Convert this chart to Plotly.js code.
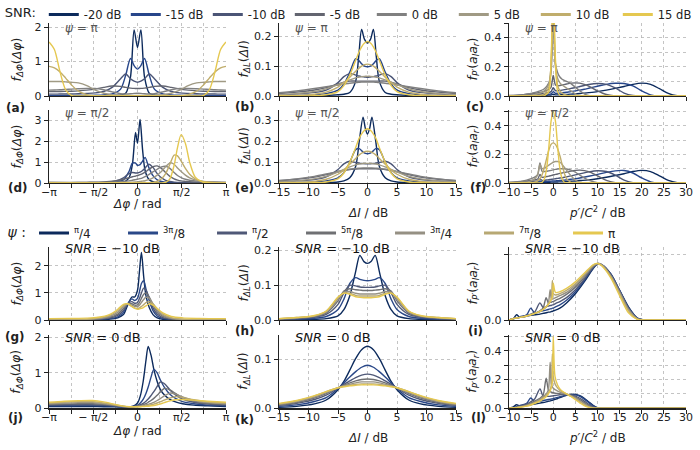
<!DOCTYPE html>
<html><head><meta charset="utf-8">
<script src="https://cdn.plot.ly/plotly-3.0.1.min.js"></script>
<style>html,body{margin:0;padding:0;background:#fff}#plot{width:700px;height:450px}</style>
</head><body><div id="plot"></div>
<script>
// ---------- labels & colours ----------
const snrLabels = ['-20 dB','-15 dB','-10 dB','-5 dB','0 dB','5 dB','10 dB','15 dB'];
const psiLabels = ['<sup>π</sup>/4','<sup>3π</sup>/8','<sup>π</sup>/2','<sup>5π</sup>/8','<sup>3π</sup>/4','<sup>7π</sup>/8','π'];
const snrColors = ['#0c2a5c','#27468a','#4b5576','#636570','#808080','#a09a84','#c0ad6c','#e5c850'];
const psiColors = ['#0c2a5c','#2a4888','#4f5877','#6f7073','#959083','#b7a873','#e5c850'];

// ---------- (a) psi = pi, phase difference, one row per SNR ----------
const xA = [-3.14,-2.95,-2.75,-2.55,-2.35,-2.1,-1.8,-1.5,-1.2,-0.9,-0.6,-0.42,-0.25,-0.12,0,0.12,0.25,0.42,0.6,0.9,1.2,1.5,1.8,2.1,2.35,2.55,2.75,2.95,3.14];
const yA = [
 [0.005,0.005,0.005,0.005,0.005,0.006,0.007,0.008,0.01,0.015,0.03,0.08,0.55,1.92,1.41,1.92,0.55,0.08,0.03,0.015,0.01,0.008,0.007,0.006,0.005,0.005,0.005,0.005,0.005],
 [0.01,0.01,0.01,0.011,0.012,0.014,0.017,0.022,0.032,0.06,0.2,0.6,1.09,0.88,0.78,0.88,1.09,0.6,0.2,0.06,0.032,0.022,0.017,0.014,0.012,0.011,0.01,0.01,0.01],
 [0.055,0.055,0.056,0.058,0.06,0.065,0.075,0.09,0.13,0.25,0.5,0.64,0.5,0.43,0.4,0.43,0.5,0.64,0.5,0.25,0.13,0.09,0.075,0.065,0.06,0.058,0.056,0.055,0.055],
 [0.13,0.13,0.13,0.135,0.14,0.15,0.17,0.2,0.25,0.29,0.28,0.25,0.23,0.22,0.22,0.22,0.23,0.25,0.28,0.29,0.25,0.2,0.17,0.15,0.14,0.135,0.13,0.13,0.13],
 [0.17,0.175,0.18,0.19,0.2,0.21,0.22,0.22,0.18,0.12,0.07,0.06,0.065,0.075,0.08,0.075,0.065,0.06,0.07,0.12,0.18,0.22,0.22,0.21,0.2,0.19,0.18,0.175,0.17],
 [0.42,0.42,0.42,0.41,0.4,0.38,0.3,0.17,0.08,0.04,0.025,0.02,0.018,0.016,0.015,0.016,0.018,0.02,0.025,0.04,0.08,0.17,0.3,0.38,0.4,0.41,0.42,0.42,0.42],
 [0.86,0.82,0.7,0.52,0.33,0.14,0.04,0.01,0.003,0.001,0,0,0,0,0,0,0,0,0,0.001,0.003,0.01,0.04,0.14,0.33,0.52,0.7,0.82,0.86],
 [1.57,1.35,0.7,0.18,0.02,0,0,0,0,0,0,0,0,0,0,0,0,0,0,0,0,0,0,0,0.02,0.18,0.7,1.35,1.57]
];
// ---------- (b) psi = pi, level difference ----------
const xB = [-15,-12,-9,-7,-5,-4,-3,-2,-1.5,-1,-0.5,0,0.5,1,1.5,2,3,4,5,7,9,12,15];
const yB = [
 [0,0,0.001,0.002,0.004,0.006,0.012,0.05,0.13,0.223,0.19,0.178,0.19,0.223,0.13,0.05,0.012,0.006,0.004,0.002,0.001,0,0],
 [0.001,0.002,0.004,0.008,0.02,0.04,0.08,0.125,0.12,0.108,0.1,0.098,0.1,0.108,0.12,0.125,0.08,0.04,0.02,0.008,0.004,0.002,0.001],
 [0.004,0.007,0.012,0.02,0.045,0.065,0.075,0.07,0.067,0.065,0.064,0.063,0.064,0.065,0.067,0.07,0.075,0.065,0.045,0.02,0.012,0.007,0.004],
 [0.008,0.013,0.02,0.028,0.04,0.046,0.05,0.05,0.05,0.05,0.05,0.05,0.05,0.05,0.05,0.05,0.05,0.046,0.04,0.028,0.02,0.013,0.008],
 [0.011,0.017,0.025,0.031,0.037,0.04,0.043,0.045,0.046,0.047,0.047,0.047,0.047,0.047,0.046,0.045,0.043,0.04,0.037,0.031,0.025,0.017,0.011],
 [0.004,0.008,0.015,0.024,0.038,0.046,0.054,0.061,0.063,0.065,0.066,0.066,0.066,0.065,0.063,0.061,0.054,0.046,0.038,0.024,0.015,0.008,0.004],
 [0.001,0.002,0.006,0.013,0.03,0.045,0.063,0.083,0.092,0.1,0.105,0.107,0.105,0.1,0.092,0.083,0.063,0.045,0.03,0.013,0.006,0.002,0.001],
 [0,0,0.001,0.004,0.015,0.035,0.07,0.12,0.145,0.165,0.178,0.183,0.178,0.165,0.145,0.12,0.07,0.035,0.015,0.004,0.001,0,0]
];
// ---------- (c) psi = pi, p'/C^2 ----------
const xC = [-10,-7,-5,-3,-2,-1,-0.5,0,0.5,1,1.5,2,3,4,5,6,7,8,10,12,14,16,18,20,22,24,26,28,30];
const yC = [
 [0,0.001,0.002,0.004,0.005,0.006,0.007,0.012,0.008,0.008,0.009,0.01,0.011,0.013,0.015,0.017,0.02,0.023,0.03,0.04,0.052,0.065,0.08,0.088,0.08,0.05,0.018,0.002,0],
 [0.001,0.003,0.005,0.008,0.01,0.012,0.014,0.03,0.018,0.019,0.02,0.022,0.026,0.03,0.035,0.04,0.046,0.053,0.067,0.08,0.087,0.086,0.07,0.035,0.008,0,0,0,0],
 [0.002,0.005,0.009,0.014,0.018,0.024,0.03,0.056,0.036,0.036,0.038,0.04,0.045,0.052,0.058,0.065,0.072,0.079,0.086,0.08,0.055,0.02,0.003,0,0,0,0,0,0],
 [0.003,0.008,0.015,0.025,0.032,0.045,0.06,0.14,0.075,0.07,0.072,0.075,0.082,0.088,0.09,0.088,0.08,0.068,0.035,0.01,0.001,0,0,0,0,0,0,0,0],
 [0.002,0.008,0.018,0.035,0.05,0.09,0.16,0.5,0.22,0.16,0.13,0.115,0.1,0.085,0.06,0.035,0.015,0.004,0,0,0,0,0,0,0,0,0,0,0],
 [0,0.002,0.006,0.02,0.035,0.08,0.2,0.6,0.2,0.12,0.09,0.075,0.055,0.035,0.015,0.004,0,0,0,0,0,0,0,0,0,0,0,0,0],
 [0,0,0,0.005,0.015,0.06,0.22,0.65,0.22,0.07,0.035,0.02,0.005,0,0,0,0,0,0,0,0,0,0,0,0,0,0,0,0],
 [0,0,0,0,0.003,0.03,0.25,0.7,0.25,0.03,0.005,0,0,0,0,0,0,0,0,0,0,0,0,0,0,0,0,0,0]
];
// ---------- (d) psi = pi/2, phase difference ----------
const xD = [-3.14,-2.4,-1.8,-1.2,-0.8,-0.5,-0.3,-0.18,-0.07,0,0.09,0.18,0.27,0.4,0.55,0.7,0.85,1.0,1.15,1.3,1.42,1.55,1.7,1.85,2.05,2.3,2.7,3.14];
const yD = [
 [0,0,0,0,0.01,0.04,0.25,0.9,2.42,1.9,3.05,1.6,0.6,0.18,0.06,0.02,0.01,0,0,0,0,0,0,0,0,0,0,0],
 [0.005,0.005,0.005,0.01,0.04,0.15,0.55,0.95,0.95,0.85,0.88,1.05,1.23,0.75,0.35,0.15,0.07,0.04,0.02,0.01,0.008,0.007,0.006,0.005,0.005,0.005,0.005,0.005],
 [0.01,0.01,0.015,0.03,0.09,0.25,0.45,0.5,0.48,0.48,0.52,0.6,0.72,0.9,0.75,0.45,0.25,0.13,0.07,0.04,0.03,0.025,0.02,0.02,0.015,0.012,0.01,0.01],
 [0.02,0.02,0.03,0.05,0.1,0.18,0.25,0.3,0.33,0.36,0.4,0.45,0.52,0.65,0.78,0.82,0.7,0.5,0.32,0.2,0.14,0.1,0.08,0.06,0.05,0.04,0.03,0.02],
 [0.04,0.03,0.03,0.03,0.04,0.07,0.1,0.13,0.16,0.18,0.21,0.25,0.3,0.4,0.53,0.66,0.77,0.8,0.7,0.5,0.36,0.26,0.18,0.13,0.1,0.07,0.05,0.04],
 [0.02,0.01,0.01,0.01,0.01,0.02,0.03,0.04,0.05,0.06,0.07,0.09,0.11,0.16,0.25,0.38,0.55,0.78,0.96,0.9,0.72,0.55,0.38,0.25,0.15,0.08,0.04,0.02],
 [0.01,0.005,0.003,0.003,0.003,0.004,0.005,0.006,0.007,0.008,0.009,0.01,0.012,0.018,0.03,0.08,0.2,0.45,0.9,1.34,1.3,1.05,0.7,0.42,0.2,0.07,0.02,0.01],
 [0,0,0,0,0,0,0,0,0,0,0,0,0,0,0,0,0,0.03,0.2,0.85,1.7,2.32,1.9,1.0,0.28,0.05,0,0]
];
// ---------- (e) psi = pi/2, level difference ----------
const xE = [-15,-12,-9,-7,-5,-4,-3,-2,-1.4,-0.75,-0.35,0,0.35,0.75,1.4,2,3,4,5,7,9,12,15];
const yE = [
 [0,0,0.001,0.002,0.005,0.01,0.025,0.08,0.2,0.316,0.26,0.235,0.26,0.316,0.2,0.08,0.025,0.01,0.005,0.002,0.001,0,0],
 [0.001,0.002,0.005,0.01,0.025,0.05,0.1,0.16,0.165,0.148,0.142,0.14,0.142,0.148,0.165,0.16,0.1,0.05,0.025,0.01,0.005,0.002,0.001],
 [0.006,0.01,0.017,0.03,0.065,0.092,0.104,0.098,0.095,0.093,0.092,0.092,0.092,0.093,0.095,0.098,0.104,0.092,0.065,0.03,0.017,0.01,0.006],
 [0.011,0.018,0.028,0.04,0.054,0.06,0.065,0.067,0.068,0.068,0.068,0.068,0.068,0.068,0.068,0.067,0.065,0.06,0.054,0.04,0.028,0.018,0.011],
 [0.012,0.02,0.032,0.043,0.055,0.061,0.066,0.07,0.071,0.072,0.072,0.072,0.072,0.072,0.071,0.07,0.066,0.061,0.055,0.043,0.032,0.02,0.012],
 [0.005,0.01,0.02,0.032,0.053,0.065,0.077,0.087,0.091,0.093,0.094,0.094,0.094,0.093,0.091,0.087,0.077,0.065,0.053,0.032,0.02,0.01,0.005],
 [0.001,0.003,0.008,0.018,0.042,0.063,0.09,0.118,0.135,0.147,0.151,0.152,0.151,0.147,0.135,0.118,0.09,0.063,0.042,0.018,0.008,0.003,0.001],
 [0,0,0.001,0.005,0.02,0.048,0.1,0.17,0.215,0.245,0.256,0.26,0.256,0.245,0.215,0.17,0.1,0.048,0.02,0.005,0.001,0,0]
];
// ---------- (f) psi = pi/2, p'/C^2 ----------
const xF = [-10,-7,-5,-4,-3.5,-3,-2.5,-2,-1.5,-1,-0.5,0,0.5,1,1.5,2,2.5,3,4,5,6,8,10,12,14,16,18,20,22,24,26,28,30];
const yF = [
 [0,0.001,0.002,0.003,0.003,0.006,0.004,0.004,0.005,0.005,0.006,0.006,0.007,0.007,0.008,0.008,0.009,0.01,0.012,0.014,0.017,0.022,0.03,0.04,0.052,0.065,0.08,0.088,0.08,0.05,0.018,0.002,0],
 [0.001,0.003,0.005,0.006,0.007,0.014,0.009,0.01,0.011,0.012,0.013,0.014,0.015,0.016,0.017,0.019,0.02,0.022,0.026,0.03,0.035,0.047,0.06,0.074,0.085,0.087,0.07,0.035,0.008,0,0,0,0],
 [0.002,0.006,0.01,0.013,0.015,0.028,0.018,0.019,0.021,0.023,0.025,0.027,0.03,0.032,0.035,0.037,0.04,0.043,0.05,0.057,0.064,0.078,0.086,0.08,0.055,0.02,0.003,0,0,0,0,0,0],
 [0.003,0.01,0.018,0.024,0.028,0.06,0.04,0.042,0.045,0.048,0.052,0.056,0.06,0.063,0.067,0.07,0.074,0.077,0.083,0.088,0.09,0.08,0.05,0.018,0.003,0,0,0,0,0,0,0,0],
 [0.003,0.012,0.03,0.045,0.06,0.14,0.08,0.08,0.082,0.085,0.088,0.092,0.095,0.098,0.1,0.1,0.1,0.098,0.09,0.075,0.055,0.02,0.002,0,0,0,0,0,0,0,0,0,0],
 [0,0.003,0.015,0.035,0.06,0.13,0.1,0.105,0.115,0.125,0.135,0.145,0.15,0.15,0.145,0.13,0.11,0.09,0.05,0.02,0.005,0,0,0,0,0,0,0,0,0,0,0,0],
 [0,0,0.002,0.008,0.015,0.03,0.06,0.11,0.17,0.23,0.27,0.28,0.27,0.24,0.19,0.13,0.07,0.03,0.005,0,0,0,0,0,0,0,0,0,0,0,0,0,0],
 [0,0,0,0,0,0,0.005,0.03,0.1,0.25,0.43,0.5,0.43,0.25,0.1,0.03,0.005,0,0,0,0,0,0,0,0,0,0,0,0,0,0,0,0]
];
// ---------- (g) SNR = -10 dB, phase difference, one row per psi ----------
const xG = [-3.14,-2.4,-1.8,-1.4,-1.0,-0.7,-0.5,-0.35,-0.2,-0.1,0,0.07,0.14,0.22,0.3,0.42,0.55,0.7,0.9,1.2,1.6,2.2,3.14];
const yG = [
 [0,0,0.005,0.01,0.03,0.08,0.2,0.55,0.85,0.85,1.1,1.8,2.5,1.6,0.9,0.45,0.2,0.08,0.03,0.01,0.005,0,0],
 [0,0,0.01,0.02,0.05,0.12,0.28,0.6,0.78,0.72,0.8,1.05,1.35,1.45,1.15,0.7,0.35,0.15,0.06,0.02,0.01,0,0],
 [0,0.005,0.01,0.03,0.07,0.17,0.35,0.6,0.68,0.62,0.65,0.8,1.0,1.18,1.1,0.8,0.45,0.22,0.09,0.03,0.01,0.005,0],
 [0,0.005,0.015,0.04,0.1,0.22,0.42,0.6,0.6,0.55,0.56,0.65,0.8,0.95,1.0,0.85,0.55,0.3,0.13,0.05,0.02,0.005,0],
 [0,0.01,0.02,0.05,0.13,0.28,0.48,0.6,0.55,0.5,0.5,0.55,0.65,0.76,0.84,0.8,0.6,0.36,0.17,0.06,0.02,0.01,0],
 [0,0.01,0.03,0.07,0.16,0.34,0.54,0.6,0.5,0.44,0.43,0.45,0.5,0.57,0.64,0.68,0.6,0.42,0.22,0.09,0.03,0.01,0],
 [0.05,0.06,0.07,0.1,0.2,0.4,0.58,0.6,0.5,0.43,0.4,0.41,0.43,0.47,0.52,0.6,0.55,0.42,0.26,0.13,0.08,0.06,0.05]
];
// ---------- (h) SNR = -10 dB, level difference ----------
const xH = [-15,-12,-9,-7,-5,-4,-3,-2,-1.3,-0.6,0,0.6,1.3,2,3,4,5,7,9,12,15];
const yH = [
 [0,0.001,0.002,0.004,0.012,0.03,0.07,0.14,0.186,0.168,0.163,0.168,0.186,0.14,0.07,0.03,0.012,0.004,0.002,0.001,0],
 [0.001,0.002,0.005,0.01,0.03,0.06,0.105,0.122,0.117,0.114,0.113,0.114,0.117,0.122,0.105,0.06,0.03,0.01,0.005,0.002,0.001],
 [0.002,0.004,0.008,0.016,0.045,0.078,0.1,0.098,0.095,0.094,0.094,0.094,0.095,0.098,0.1,0.078,0.045,0.016,0.008,0.004,0.002],
 [0.003,0.005,0.01,0.02,0.055,0.083,0.09,0.087,0.086,0.085,0.085,0.085,0.086,0.087,0.09,0.083,0.055,0.02,0.01,0.005,0.003],
 [0.003,0.006,0.011,0.023,0.06,0.08,0.082,0.077,0.075,0.075,0.075,0.075,0.075,0.077,0.082,0.08,0.06,0.023,0.011,0.006,0.003],
 [0.004,0.007,0.012,0.025,0.064,0.078,0.077,0.071,0.069,0.069,0.069,0.069,0.069,0.071,0.077,0.078,0.064,0.025,0.012,0.007,0.004],
 [0.004,0.007,0.013,0.026,0.066,0.077,0.074,0.067,0.065,0.064,0.064,0.064,0.065,0.067,0.074,0.077,0.066,0.026,0.013,0.007,0.004]
];
// ---------- (i) SNR = -10 dB, p'/C^2 ----------
const xI = [-10,-9,-8.3,-7.5,-6,-5.1,-4.2,-3.0,-2.3,-1.6,-1.1,-0.7,-0.45,-0.2,0,0.5,1.5,3,5,7,9,10,11,13,15,17,19,21,25,30];
const yI = [
 [0,0.002,0.008,0.004,0.006,0.007,0.008,0.009,0.01,0.011,0.012,0.012,0.013,0.013,0.014,0.015,0.018,0.026,0.04,0.058,0.078,0.085,0.084,0.07,0.045,0.02,0.003,0,0,0],
 [0,0.002,0.003,0.005,0.008,0.018,0.011,0.013,0.014,0.015,0.016,0.017,0.017,0.018,0.018,0.02,0.023,0.03,0.043,0.06,0.079,0.085,0.084,0.07,0.045,0.019,0.003,0,0,0],
 [0,0.002,0.003,0.004,0.007,0.009,0.012,0.026,0.019,0.02,0.021,0.022,0.022,0.023,0.023,0.025,0.028,0.034,0.046,0.062,0.08,0.086,0.084,0.069,0.044,0.018,0.002,0,0,0],
 [0,0.002,0.003,0.004,0.006,0.008,0.01,0.014,0.018,0.034,0.026,0.027,0.027,0.028,0.028,0.03,0.033,0.039,0.05,0.065,0.081,0.086,0.084,0.068,0.043,0.017,0.002,0,0,0],
 [0,0.002,0.003,0.004,0.006,0.008,0.01,0.013,0.016,0.02,0.026,0.046,0.033,0.032,0.032,0.034,0.037,0.042,0.053,0.067,0.082,0.086,0.084,0.067,0.042,0.016,0.002,0,0,0],
 [0,0.002,0.003,0.004,0.006,0.008,0.01,0.013,0.016,0.02,0.024,0.028,0.032,0.06,0.04,0.038,0.04,0.045,0.055,0.069,0.083,0.086,0.083,0.066,0.04,0.014,0.001,0,0,0],
 [0,0.002,0.003,0.004,0.006,0.008,0.01,0.013,0.016,0.02,0.024,0.028,0.031,0.035,0.056,0.042,0.043,0.048,0.058,0.071,0.084,0.086,0.082,0.064,0.037,0.011,0.001,0,0,0]
];
// ---------- (j) SNR = 0 dB, phase difference ----------
const xJ = [-3.14,-2.6,-2.1,-1.6,-1.2,-0.8,-0.5,-0.3,-0.15,0,0.1,0.2,0.3,0.38,0.48,0.58,0.7,0.8,0.95,1.15,1.35,1.6,2.0,2.5,3.14];
const yJ = [
 [0.05,0.05,0.05,0.05,0.045,0.04,0.035,0.04,0.06,0.15,0.35,0.75,1.35,1.75,1.5,1.1,0.75,0.55,0.38,0.25,0.18,0.13,0.09,0.07,0.05],
 [0.07,0.07,0.075,0.075,0.07,0.055,0.04,0.04,0.05,0.09,0.15,0.25,0.42,0.6,0.88,1.1,1.0,0.82,0.6,0.4,0.28,0.19,0.13,0.09,0.07],
 [0.09,0.1,0.1,0.1,0.09,0.07,0.045,0.04,0.045,0.07,0.1,0.14,0.2,0.26,0.36,0.47,0.62,0.74,0.7,0.52,0.38,0.26,0.17,0.12,0.09],
 [0.11,0.12,0.13,0.13,0.11,0.08,0.05,0.04,0.045,0.06,0.075,0.1,0.13,0.17,0.22,0.28,0.37,0.45,0.56,0.52,0.42,0.3,0.2,0.14,0.11],
 [0.13,0.15,0.16,0.16,0.13,0.09,0.05,0.04,0.04,0.05,0.06,0.075,0.095,0.11,0.14,0.17,0.22,0.27,0.35,0.43,0.4,0.32,0.22,0.16,0.13],
 [0.15,0.18,0.19,0.19,0.15,0.1,0.055,0.04,0.04,0.045,0.05,0.06,0.07,0.08,0.1,0.12,0.15,0.18,0.23,0.29,0.33,0.31,0.24,0.18,0.15],
 [0.17,0.2,0.215,0.22,0.18,0.11,0.06,0.045,0.042,0.042,0.045,0.05,0.055,0.06,0.07,0.08,0.1,0.12,0.16,0.21,0.24,0.25,0.23,0.2,0.17]
];
// ---------- (k) SNR = 0 dB, level difference ----------
const xK = [-15,-12,-9,-7,-5,-4,-3,-2,-1,0,1,2,3,4,5,7,9,12,15];
const yK = [
 [0.002,0.004,0.009,0.017,0.038,0.055,0.078,0.102,0.12,0.127,0.12,0.102,0.078,0.055,0.038,0.017,0.009,0.004,0.002],
 [0.004,0.007,0.014,0.022,0.04,0.052,0.064,0.075,0.084,0.088,0.084,0.075,0.064,0.052,0.04,0.022,0.014,0.007,0.004],
 [0.006,0.01,0.018,0.027,0.041,0.049,0.056,0.063,0.068,0.07,0.068,0.063,0.056,0.049,0.041,0.027,0.018,0.01,0.006],
 [0.007,0.012,0.021,0.03,0.042,0.047,0.052,0.056,0.059,0.06,0.059,0.056,0.052,0.047,0.042,0.03,0.021,0.012,0.007],
 [0.008,0.014,0.023,0.032,0.042,0.046,0.049,0.052,0.054,0.054,0.054,0.052,0.049,0.046,0.042,0.032,0.023,0.014,0.008],
 [0.009,0.015,0.025,0.034,0.042,0.045,0.047,0.049,0.05,0.05,0.05,0.049,0.047,0.045,0.042,0.034,0.025,0.015,0.009],
 [0.01,0.016,0.026,0.034,0.042,0.044,0.046,0.047,0.048,0.048,0.048,0.047,0.046,0.044,0.042,0.034,0.026,0.016,0.01]
];
// ---------- (l) SNR = 0 dB, p'/C^2 ----------
const xL = [-10,-9,-8.3,-7.5,-6,-5.1,-4.2,-3.0,-2.3,-1.6,-1.1,-0.7,-0.45,-0.2,0,0.4,1,1.5,2,3,4,5,6,7,8,9,10,12,15,20,30];
const yL = [
 [0,0.01,0.025,0.015,0.02,0.025,0.03,0.036,0.04,0.045,0.049,0.052,0.054,0.056,0.058,0.062,0.068,0.074,0.08,0.09,0.097,0.097,0.088,0.07,0.045,0.02,0.004,0,0,0,0],
 [0,0.005,0.01,0.02,0.035,0.072,0.045,0.05,0.054,0.058,0.061,0.063,0.065,0.066,0.068,0.071,0.076,0.08,0.084,0.091,0.095,0.093,0.083,0.064,0.04,0.017,0.003,0,0,0,0],
 [0,0.004,0.008,0.014,0.03,0.045,0.065,0.135,0.085,0.083,0.083,0.084,0.085,0.086,0.087,0.089,0.092,0.094,0.095,0.096,0.093,0.085,0.07,0.05,0.028,0.01,0.001,0,0,0,0],
 [0,0.003,0.006,0.011,0.024,0.036,0.05,0.07,0.09,0.21,0.13,0.118,0.113,0.11,0.108,0.105,0.103,0.101,0.1,0.097,0.09,0.078,0.06,0.04,0.02,0.006,0,0,0,0,0],
 [0,0.003,0.005,0.01,0.02,0.03,0.043,0.062,0.08,0.1,0.13,0.32,0.17,0.15,0.14,0.13,0.12,0.113,0.107,0.098,0.087,0.072,0.052,0.032,0.014,0.003,0,0,0,0,0],
 [0,0.002,0.004,0.008,0.017,0.026,0.038,0.056,0.072,0.09,0.11,0.13,0.16,0.38,0.22,0.17,0.14,0.125,0.115,0.1,0.085,0.066,0.046,0.026,0.01,0.002,0,0,0,0,0],
 [0,0.002,0.004,0.007,0.015,0.023,0.034,0.05,0.065,0.08,0.1,0.12,0.14,0.18,0.5,0.22,0.16,0.135,0.12,0.1,0.082,0.06,0.038,0.018,0.006,0.001,0,0,0,0,0]
];

// ---------- layout geometry ----------
const W = 700, H = 450, PI = Math.PI;
const colPx = [[49,226],[279,456],[509,686]];
const rowPx = [[23,96],[110,183],[247,320],[335,408.3]];
const panels = [
  {x:xA,ys:yA},{x:xB,ys:yB},{x:xC,ys:yC},
  {x:xD,ys:yD},{x:xE,ys:yE},{x:xF,ys:yF},
  {x:xG,ys:yG},{x:xH,ys:yH},{x:xI,ys:yI},
  {x:xJ,ys:yJ},{x:xK,ys:yK},{x:xL,ys:yL}
];
const xCfg = [
  {range:[-PI,PI], tickvals:[-PI,-3*PI/4,-PI/2,-PI/4,0,PI/4,PI/2,3*PI/4,PI],
   ticktext:['−π','','− π/2','','0','','π/2','','π']},
  {range:[-15,15], tickvals:[-15,-10,-5,0,5,10,15], ticktext:['−15','−10','−5','0','5','10','15']},
  {range:[-10,30], tickvals:[-10,-5,0,5,10,15,20,25,30], ticktext:['−10','−5','0','5','10','15','20','25','30']}
];
const tenth = {tv:[0,0.1,0.2,0.3,0.4,0.5], tt:['0.0','','0.2','','0.4','']};
const yCfg = [
  [{r:[0,2.12],tv:[0,1,2],tt:['0','1','2']},{r:[0,0.245],tv:[0,0.1,0.2],tt:['0.0','0.1','0.2']},{r:[0,0.5],...tenth}],
  [{r:[0,3.5],tv:[0,1,2,3],tt:['0','1','2','3']},{r:[0,0.35],tv:[0,0.1,0.2,0.3],tt:['0.0','0.1','0.2','0.3']},{r:[0,0.51],...tenth}],
  [{r:[0,2.7],tv:[0,1,2],tt:['0','1','2']},{r:[0,0.21],tv:[0,0.1,0.2],tt:['0.0','0.1','0.2']},{r:[0,0.111],tv:[0,0.1],tt:['0.0','']}],
  [{r:[0,2.07],tv:[0,1,2],tt:['0','1','2']},{r:[0,0.15],tv:[0,0.1],tt:['0.0','0.1']},{r:[0,0.51],...tenth}]
];

const axBase = {
  showline:true, linecolor:'#222', linewidth:1.3, ticks:'outside', ticklen:4, tickwidth:1,
  tickcolor:'#222', showgrid:true, gridcolor:'#b5b5b5', griddash:'dot', gridwidth:0.8,
  zeroline:false, fixedrange:true, tickfont:{family:'DejaVu Sans', size:11, color:'#222'}
};

const layout = {
  width:W, height:H, margin:{l:0,r:0,t:0,b:0},
  paper_bgcolor:'#fff', plot_bgcolor:'#fff',
  font:{family:'DejaVu Sans', size:11, color:'#222'},
  showlegend:true,
  legend:{orientation:'h', x:0.004, xanchor:'left', y:1.0, yanchor:'top',
          bgcolor:'rgba(0,0,0,0)', font:{size:11.5, color:'#222'}, entrywidth:37, entrywidthmode:'pixels',
          title:{text:'SNR:', side:'left', font:{size:13, color:'#222'}}, itemwidth:30},
  legend2:{orientation:'h', x:0.008, xanchor:'left', y:1-233/H, yanchor:'middle',
          bgcolor:'rgba(0,0,0,0)', font:{size:12, color:'#222'}, entrywidth:44, entrywidthmode:'pixels',
          title:{text:'<i>ψ</i> :', side:'left', font:{size:14, color:'#222'}}, itemwidth:30},
  annotations:[]
};

const traces = [];
panels.forEach((p, i) => {
  const row = Math.floor(i/3), col = i % 3, n = i + 1;
  const xa = 'xaxis' + (n === 1 ? '' : n), ya = 'yaxis' + (n === 1 ? '' : n);
  const xc = xCfg[col], yc = yCfg[row][col];
  layout[xa] = Object.assign({}, axBase, {
    domain:[colPx[col][0]/W, colPx[col][1]/W], anchor:'y'+(n===1?'':n),
    range:xc.range, tickmode:'array', tickvals:xc.tickvals, ticktext:xc.ticktext,
    showticklabels: (row === 1 || row === 3), ticklabelstandoff:-6
  });
  layout[ya] = Object.assign({}, axBase, {
    domain:[1-rowPx[row][1]/H, 1-rowPx[row][0]/H], anchor:'x'+(n===1?'':n),
    range:yc.r, tickmode:'array', tickvals:yc.tv, ticktext:yc.tt
  });
  const colors = row < 2 ? snrColors : psiColors;
  p.ys.forEach((y, j) => {
    traces.push({x:p.x, y:y, xaxis:'x'+(n===1?'':n), yaxis:'y'+(n===1?'':n), mode:'lines',
      line:{color:colors[j], width:1.4, shape:'spline', smoothing:0.8},
      showlegend:false, hoverinfo:'skip'});
  });
});
// legend entries (thick key lines)
snrLabels.forEach((lab, j) => traces.push({x:[null], y:[null], xaxis:'x', yaxis:'y', mode:'lines',
  name:lab, legend:'legend', line:{color:snrColors[j], width:3}, hoverinfo:'skip'}));
psiLabels.forEach((lab, j) => traces.push({x:[null], y:[null], xaxis:'x7', yaxis:'y7', mode:'lines',
  name:lab, legend:'legend2', line:{color:psiColors[j], width:3}, hoverinfo:'skip'}));

// ---------- annotations ----------
const ann = (text, x, y, opts) => layout.annotations.push(Object.assign({
  text, x:x/W, y:1-y/H, xref:'paper', yref:'paper', showarrow:false,
  xanchor:'center', yanchor:'middle', font:{family:'DejaVu Sans', size:11, color:'#222'}
}, opts || {}));

const yTitles = ['<i>f</i><sub><i>ΔΦ</i></sub>(<i>Δφ</i>)',
                 '<i>f</i><sub><i>ΔL</i></sub>(<i>ΔI</i>)',
                 '<i>f</i><sub><i>P′</i></sub>(<i>a</i><sub><i>l</i></sub><i>a</i><sub><i>r</i></sub>)'];
const yTitleX = [17, 244, 473];
rowPx.forEach((r) => yTitles.forEach((t, c) => ann(t, yTitleX[c], (r[0]+r[1])/2, {textangle:-90, font:{family:'DejaVu Sans', size:12.5, color:'#222'}})));

const xTitles = ['<i>Δφ</i> / rad', '<i>ΔI</i> / dB', '<i>p′</i>/<i>C</i><sup>2</sup> / dB'];
const xTitleY = [[204, 213, 212], [431, 438, 437]];
[0,1].forEach(k => xTitles.forEach((t, c) => ann(t, (colPx[c][0]+colPx[c][1])/2, xTitleY[k][c], {font:{family:'DejaVu Sans', size:12, color:'#222'}})));

const plab = [['(a)',15,108],['(b)',245,107],['(c)',475,107],['(d)',18,188],['(e)',245,188],['(f)',478,188],
              ['(g)',15,337],['(h)',245,331],['(i)',475,331],['(j)',15,418],['(k)',245,420],['(l)',478,418]];
plab.forEach(([t,x,y]) => ann('<b>'+t+'</b>', x, y, {font:{family:'DejaVu Sans', size:12, color:'#222'}}));

const inner = [['<i>ψ</i> = π', 28], ['<i>ψ</i> = π/2', 113]];
inner.forEach(([t, y]) => colPx.forEach(c => ann(t, c[0]+14, y, {xanchor:'left', font:{family:'DejaVu Sans', size:12, color:'#555'}})));
const snrIn = [['<i>SNR</i> = −10 dB', 248.3], ['<i>SNR</i> = 0 dB', 337.3]];
snrIn.forEach(([t, y]) => colPx.forEach(c => ann(t, c[0]+14, y, {xanchor:'left', font:{family:'DejaVu Sans', size:13, color:'#111'}})));

Plotly.newPlot('plot', traces, layout, {staticPlot:true, displayModeBar:false});
</script>
</body></html>
